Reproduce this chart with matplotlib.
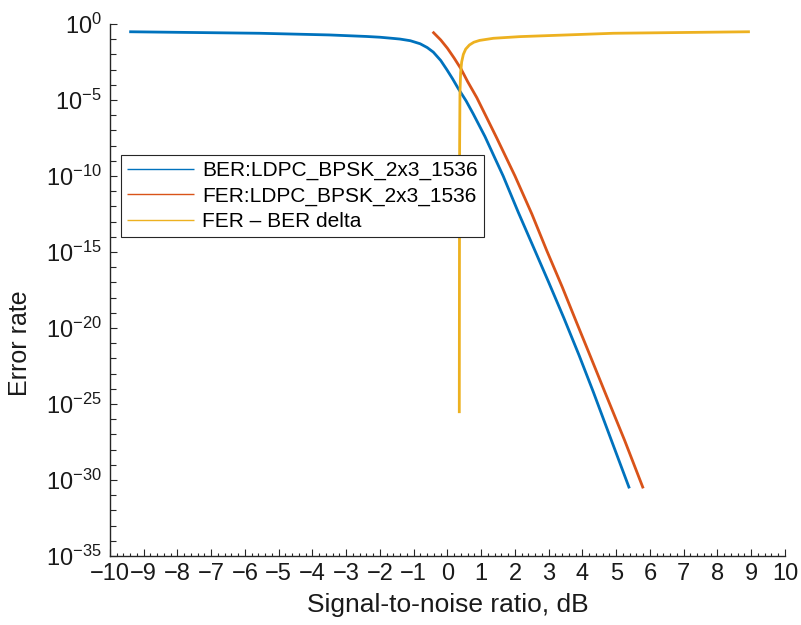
import matplotlib
matplotlib.use("Agg")
import matplotlib.pyplot as plt
import numpy as np
from matplotlib.ticker import FixedLocator, MultipleLocator, LogFormatterMathtext, NullFormatter

plt.rcParams['font.family'] = ['Liberation Sans', 'DejaVu Sans']
plt.rcParams['mathtext.fontset'] = 'custom'
plt.rcParams['mathtext.rm'] = 'Liberation Sans'
plt.rcParams['mathtext.it'] = 'Liberation Sans:italic'
plt.rcParams['mathtext.bf'] = 'Liberation Sans:bold'

# BER curve (SNR dB, log10 error rate)
ber_snr = [-9.43, -7.5, -5.56, -3.5, -2.4, -2.0, -1.8, -1.6, -1.41, -1.1, -0.81, -0.6, -0.42, -0.2, -0.02,
           0.15, 0.32, 0.55, 0.76, 1.11, 1.4, 1.65, 2.1, 2.59, 3.0, 3.45, 3.9, 4.32, 4.85, 5.39]
ber_log = [-0.51, -0.56, -0.61, -0.72, -0.82, -0.87, -0.91, -0.95, -0.99, -1.1, -1.3, -1.55, -1.85, -2.4, -3.0,
           -3.6, -4.25, -5.05, -5.9, -7.4, -8.8, -10.0, -12.4, -14.9, -17.0, -19.35, -21.8, -24.2, -27.35, -30.55]

# FER curve
fer_snr = [-0.44, -0.2, 0.0, 0.2, 0.4, 0.6, 0.87, 1.16, 1.46, 2.0, 2.5, 2.94, 3.4, 3.8, 4.25, 4.67, 5.25, 5.80]
fer_log = [-0.51, -1.05, -1.6, -2.25, -2.95, -3.8, -4.85, -6.15, -7.5, -10.0, -12.5, -14.9, -17.3, -19.5, -21.95,
           -24.25, -27.4, -30.55]

# FER - BER delta
dlt_snr = [0.35, 0.355, 0.36, 0.37, 0.39, 0.42, 0.47, 0.54, 0.65, 0.78, 0.95, 1.36, 2.15, 4.91, 8.96]
dlt_log = [-25.6, -15.0, -8.0, -4.5, -3.2, -2.5, -2.0, -1.65, -1.38, -1.2, -1.08, -0.94, -0.83, -0.61, -0.51]

labels = ['BER:LDPC_BPSK_2x3_1536', 'FER:LDPC_BPSK_2x3_1536', 'FER \u2013 BER delta']
colors = ['#0072BD', '#D95319', '#EDB120']

fig = plt.figure(figsize=(8.01, 6.25), dpi=100)
ax = fig.add_axes([0.1373, 0.1104, 0.8427, 0.8512])

series = [(ber_snr, ber_log), (fer_snr, fer_log), (dlt_snr, dlt_log)]
for (xs, ls), lab, c in zip(series, labels, colors):
    ax.plot(xs, 10.0 ** np.array(ls), color=c, lw=2.0, label=lab,
            solid_capstyle='butt', solid_joinstyle='round')

ax.set_yscale('log')
ax.set_xlim(-10, 10)
ax.set_ylim(1e-35, 1e0)
ax.xaxis.set_major_locator(MultipleLocator(1))
ax.xaxis.set_minor_locator(MultipleLocator(0.2))
ax.yaxis.set_major_locator(FixedLocator([10.0 ** e for e in range(-35, 1, 5)]))
ax.yaxis.set_minor_locator(FixedLocator([10.0 ** e for e in range(-35, 1)]))
ax.yaxis.set_major_formatter(LogFormatterMathtext())
ax.yaxis.set_minor_formatter(NullFormatter())

for s in ['top', 'right']:
    ax.spines[s].set_visible(False)
for s in ['left', 'bottom']:
    ax.spines[s].set_color('#262626')
    ax.spines[s].set_linewidth(1.0)

ax.tick_params(axis='both', which='major', direction='in', length=5, width=0.8,
               colors='#262626', labelsize=17, labelcolor='#1a1a1a')
ax.tick_params(axis='x', which='minor', direction='in', length=2.5, width=0.8, colors='#262626')
ax.tick_params(axis='y', which='minor', direction='in', length=4, width=0.8, colors='#262626')
ax.tick_params(axis='x', which='major', pad=5)
ax.tick_params(axis='y', which='major', pad=6)

ax.set_xlabel('Signal-to-noise ratio, dB', fontsize=19, color='#1a1a1a', labelpad=6)
ax.set_ylabel('Error rate', fontsize=18, color='#1a1a1a')
ax.yaxis.set_label_coords(-0.116, 0.40)

leg = ax.legend(loc='upper left', bbox_to_anchor=(0.0159, 0.754), fontsize=15,
                handlelength=3.2, handletextpad=0.4, borderpad=0.3, labelspacing=0.3,
                fancybox=False, framealpha=1, edgecolor='#262626', borderaxespad=0)
leg.get_frame().set_linewidth(0.8)
for h in leg.get_lines():
    h.set_linewidth(1.0)

fig.savefig('out.png', dpi=100)
